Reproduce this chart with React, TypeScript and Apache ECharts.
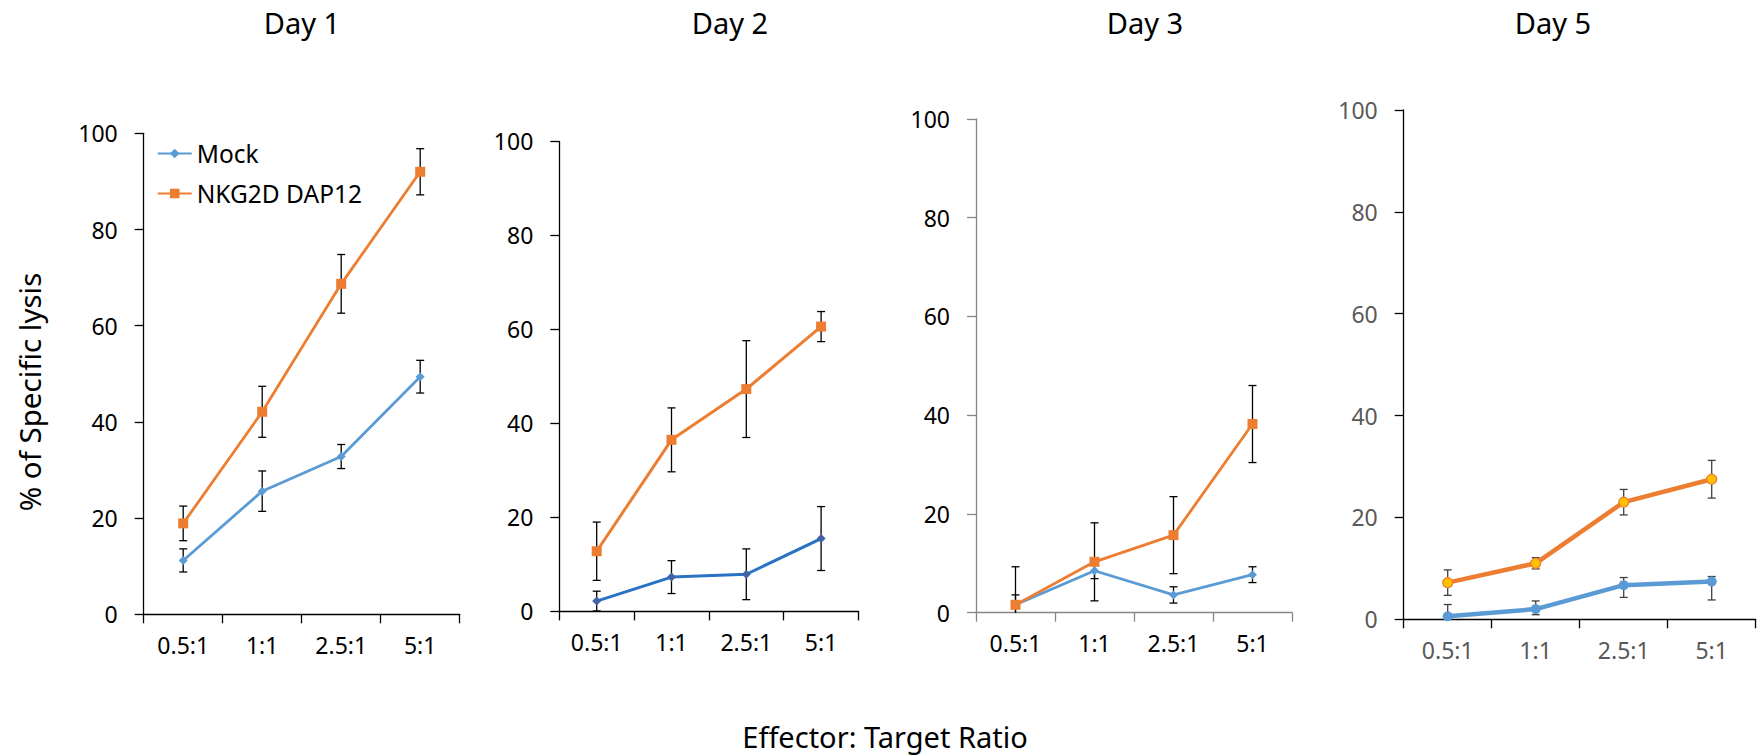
import React, { useEffect, useRef } from "react";
import * as echarts from "echarts";

const categories = ["0.5:1", "1:1", "2.5:1", "5:1"];
const panelTitles = ["Day 1", "Day 2", "Day 3", "Day 5"];
const yTicks = [0, 20, 40, 60, 80, 100];

const day1Mock = [11.2, 25.6, 32.8, 49.4];
const day1MockErr = [2.4, 4.2, 2.5, 3.4];
const day1Nkg = [18.9, 42.1, 68.7, 92.0];
const day1NkgErr = [3.6, 5.3, 6.1, 4.8];

const day2Mock = [2.2, 7.3, 7.9, 15.5];
const day2MockErr = [2.1, 3.5, 5.4, 6.8];
const day2Nkg = [12.8, 36.5, 47.3, 60.6];
const day2NkgErr = [6.2, 6.8, 10.3, 3.2];

const day3Mock = [1.6, 8.5, 3.6, 7.7];
const day3MockErr = [2.0, 1.6, 1.65, 1.6];
const day3Nkg = [1.6, 10.3, 15.7, 38.2];
const day3NkgErr = [7.7, 7.9, 7.8, 7.8];

const day5Mock = [0.6, 2.0, 6.7, 7.4];
const day5MockErrUp = [2.3, 1.6, 1.5, 1.0];
const day5MockErrDown = [2.3, 1.1, 2.4, 3.6];
const day5Nkg = [7.2, 11.0, 23.0, 27.5];
const day5NkgErr = [2.5, 1.1, 2.5, 3.7];

const FONT = "Noto Sans";

type Panel = {
  grid: { left: number; top: number; width: number; height: number };
  axisColor: string;
  labelColor: string;
  titleX: number;
  series: {
    name: string;
    values: number[];
    up: number[];
    down: number[];
    color: string;
    width: number;
    symbol: string;
    symbolSize: number;
    markerFill: string;
    markerBorder: string;
    errColor: string;
  }[];
};

const panels: Panel[] = [
  {
    grid: { left: 143.7, top: 133.3, width: 316, height: 481 },
    axisColor: "#000000",
    labelColor: "#000000",
    titleX: 302,
    series: [
      { name: "Mock", values: day1Mock, up: day1MockErr, down: day1MockErr, color: "#5B9BD5", width: 2.8, symbol: "diamond", symbolSize: 9, markerFill: "#5B9BD5", markerBorder: "#5B9BD5", errColor: "#000" },
      { name: "NKG2D DAP12", values: day1Nkg, up: day1NkgErr, down: day1NkgErr, color: "#ED7D31", width: 2.8, symbol: "rect", symbolSize: 10, markerFill: "#ED7D31", markerBorder: "#ED7D31", errColor: "#000" },
    ],
  },
  {
    grid: { left: 559.3, top: 141.4, width: 299.2, height: 470 },
    axisColor: "#000000",
    labelColor: "#000000",
    titleX: 730,
    series: [
      { name: "Mock d2", values: day2Mock, up: day2MockErr, down: day2MockErr, color: "#2873C3", width: 3, symbol: "diamond", symbolSize: 9, markerFill: "#4262A8", markerBorder: "#4262A8", errColor: "#000" },
      { name: "NKG2D DAP12 d2", values: day2Nkg, up: day2NkgErr, down: day2NkgErr, color: "#ED7D31", width: 3, symbol: "rect", symbolSize: 10, markerFill: "#ED7D31", markerBorder: "#ED7D31", errColor: "#000" },
    ],
  },
  {
    grid: { left: 976, top: 118.8, width: 316, height: 493.9 },
    axisColor: "#868686",
    labelColor: "#000000",
    titleX: 1145,
    series: [
      { name: "Mock d3", values: day3Mock, up: day3MockErr, down: day3MockErr, color: "#5B9BD5", width: 2.8, symbol: "diamond", symbolSize: 9, markerFill: "#5B9BD5", markerBorder: "#5B9BD5", errColor: "#000" },
      { name: "NKG2D DAP12 d3", values: day3Nkg, up: day3NkgErr, down: day3NkgErr, color: "#ED7D31", width: 2.8, symbol: "rect", symbolSize: 10, markerFill: "#ED7D31", markerBorder: "#ED7D31", errColor: "#000" },
    ],
  },
  {
    grid: { left: 1403.7, top: 110, width: 352, height: 509.3 },
    axisColor: "#000000",
    labelColor: "#595959",
    titleX: 1553,
    series: [
      { name: "Mock d5", values: day5Mock, up: day5MockErrUp, down: day5MockErrDown, color: "#5B9BD5", width: 4.5, symbol: "circle", symbolSize: 10, markerFill: "#5B9BD5", markerBorder: "#5B9BD5", errColor: "#404040" },
      { name: "NKG2D DAP12 d5", values: day5Nkg, up: day5NkgErr, down: day5NkgErr, color: "#ED7D31", width: 4.5, symbol: "circle", symbolSize: 10, markerFill: "#FFC000", markerBorder: "#ED7D31", errColor: "#404040" },
    ],
  },
];

function buildOption() {
  const grids: any[] = [];
  const xAxes: any[] = [];
  const yAxes: any[] = [];
  const series: any[] = [];

  panels.forEach((p, i) => {
    grids.push({ ...p.grid, containLabel: false });
    xAxes.push({
      type: "category",
      gridIndex: i,
      data: categories,
      boundaryGap: true,
      axisLine: { show: true, lineStyle: { color: p.axisColor, width: 1.3 } },
      axisTick: { show: true, inside: false, length: 9, lineStyle: { color: p.axisColor, width: 1.3 } },
      axisLabel: { color: p.labelColor, fontSize: 23, fontFamily: FONT, margin: 19 },
      splitLine: { show: false },
    });
    yAxes.push({
      type: "value",
      gridIndex: i,
      min: yTicks[0],
      max: yTicks[yTicks.length - 1],
      interval: yTicks[1] - yTicks[0],
      axisLine: { show: true, lineStyle: { color: p.axisColor, width: 1.3 } },
      axisTick: { show: true, inside: false, length: 9, lineStyle: { color: p.axisColor, width: 1.3 } },
      axisLabel: { color: p.labelColor, fontSize: 23, fontFamily: FONT, margin: 26 },
      splitLine: { show: false },
    });

    p.series.forEach((s) => {
      const errData = s.values.map((v, k) => [k, v - s.down[k], v + s.up[k]]);
      series.push({
        type: "custom",
        name: s.name + " err",
        xAxisIndex: i,
        yAxisIndex: i,
        z: 1,
        silent: true,
        data: errData,
        encode: { x: 0, y: [1, 2] },
        renderItem: (params: any, api: any) => {
          const idx = api.value(0);
          const lo = api.value(1);
          const hi = api.value(2);
          const x = api.coord([idx, 0])[0];
          const yHi = api.coord([idx, hi])[1];
          const yLo = api.coord([idx, Math.max(lo, 0)])[1];
          const cap = 4;
          const style = { stroke: s.errColor, lineWidth: 1.3 };
          const children: any[] = [
            { type: "line", shape: { x1: x, y1: yHi, x2: x, y2: yLo }, style },
            { type: "line", shape: { x1: x - cap, y1: yHi, x2: x + cap, y2: yHi }, style },
          ];
          if (lo >= 0) {
            children.push({ type: "line", shape: { x1: x - cap, y1: yLo, x2: x + cap, y2: yLo }, style });
          }
          return { type: "group", children };
        },
      });
      series.push({
        type: "line",
        name: s.name,
        xAxisIndex: i,
        yAxisIndex: i,
        z: 3,
        data: s.values,
        symbol: s.symbol,
        symbolSize: s.symbolSize,
        showAllSymbol: true,
        lineStyle: { color: s.color, width: s.width },
        itemStyle: { color: s.markerFill, borderColor: s.markerBorder, borderWidth: s.markerFill === s.markerBorder ? 0 : 1.2, opacity: 1 },
        emphasis: { disabled: true },
      });
    });
  });

  const graphics: any[] = panels.map((p, i) => ({
    type: "text",
    x: p.titleX,
    y: 22,
    style: { text: panelTitles[i], fontSize: 29, fontFamily: FONT, fill: "#000", align: "center", verticalAlign: "middle" },
  }));
  graphics.push({
    type: "text",
    x: 29,
    y: 392,
    rotation: Math.PI / 2,
    style: { text: "% of Specific lysis", fontSize: 29.5, fontFamily: FONT, fill: "#000", align: "center", verticalAlign: "middle" },
  });
  graphics.push({
    type: "text",
    x: 885,
    y: 736,
    style: { text: "Effector: Target Ratio", fontSize: 29, fontFamily: FONT, fill: "#000", align: "center", verticalAlign: "middle" },
  });

  const legendCommon = {
    orient: "vertical",
    padding: 0,
    itemWidth: 34,
    itemHeight: 12,
    itemGap: 5,
    textStyle: { fontSize: 24.5, fontFamily: FONT, color: "#000" },
    selectedMode: false,
  };

  return {
    animation: false,
    backgroundColor: "#ffffff",
    grid: grids,
    xAxis: xAxes,
    yAxis: yAxes,
    legend: [
      { ...legendCommon, data: ["Mock"], left: 156.7, top: 141 },
      { ...legendCommon, data: ["NKG2D DAP12"], left: 156.7, top: 181 },
    ],
    graphic: graphics,
    series,
  };
}

export default function App() {
  const ref = useRef<HTMLDivElement>(null);
  useEffect(() => {
    document.body.style.margin = "0";
    if (!ref.current) return;
    const chart = echarts.init(ref.current, undefined, { renderer: "svg" });
    chart.setOption(buildOption() as any);
    return () => chart.dispose();
  }, []);
  return <div ref={ref} style={{ width: 1758, height: 755 }} />;
}
